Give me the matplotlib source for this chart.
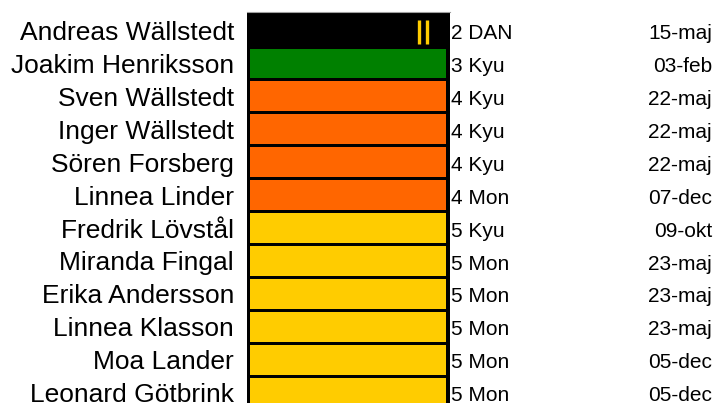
import matplotlib
matplotlib.use("Agg")
import matplotlib.pyplot as plt
import matplotlib.transforms as mtransforms

plt.rcParams['font.family'] = ['Liberation Sans', 'DejaVu Sans']

names = ["Andreas Wällstedt", "Joakim Henriksson", "Sven Wällstedt", "Inger Wällstedt",
         "Sören Forsberg", "Linnea Linder", "Fredrik Lövstål", "Miranda Fingal",
         "Erika Andersson", "Linnea Klasson", "Moa Lander", "Leonard Götbrink"]
ranks = ["2 DAN", "3 Kyu", "4 Kyu", "4 Kyu", "4 Kyu", "4 Mon", "5 Kyu", "5 Mon",
         "5 Mon", "5 Mon", "5 Mon", "5 Mon"]
dates = ["15-maj", "03-feb", "22-maj", "22-maj", "22-maj", "07-dec", "09-okt", "23-maj",
         "23-maj", "23-maj", "05-dec", "05-dec"]
belt_colors = ["#000000", "#008000", "#FF6600", "#FF6600", "#FF6600", "#FF6600",
               "#FFCC00", "#FFCC00", "#FFCC00", "#FFCC00", "#FFCC00", "#FFCC00"]
bar_values = [1] * 12
dan_stripes = [2, 0, 0, 0, 0, 0, 0, 0, 0, 0, 0, 0]

W, H = 717, 403
fig = plt.figure(figsize=(W / 100, H / 100), dpi=100)
fig.patch.set_facecolor('white')

ax_left, ax_right, ax_top = 247, 450, 11.5
ax = fig.add_axes([ax_left / W, 0, (ax_right - ax_left) / W, (H - ax_top) / H])
ax.set_facecolor('black')

ypos = list(range(len(names)))
ax.barh(ypos, bar_values, left=0, height=1.0, color=belt_colors,
        edgecolor='black', linewidth=2.16)

# dan stripes
stripe_x = [0.855, 0.898]
for i, n in enumerate(dan_stripes):
    for k in range(n):
        ax.plot([stripe_x[k], stripe_x[k]], [i - 0.307, i + 0.431], color='#FFCC00',
                lw=2.4, solid_capstyle='butt')

ax.set_xlim(-0.0075, 1.0126)
ax.set_ylim(11.324, -0.565)
ax.set_xticks([])
ax.set_yticks([])
for s in ['left', 'right', 'bottom']:
    ax.spines[s].set_visible(False)
ax.spines['top'].set_color('#a0a0a0')
ax.spines['top'].set_linewidth(0.8)

tr = mtransforms.blended_transform_factory(fig.transFigure, ax.transData)
for i in ypos:
    fig.text(234 / W, i + 0.30, names[i], transform=tr, ha='right', va='baseline',
             fontsize=19, color='black')
    fig.text(451.5 / W, i + 0.27, ranks[i], transform=tr, ha='left', va='baseline',
             fontsize=15, color='black')
    fig.text(712 / W, i + 0.27, dates[i], transform=tr, ha='right', va='baseline',
             fontsize=15, color='black')

fig.savefig('out.png', dpi=100)
